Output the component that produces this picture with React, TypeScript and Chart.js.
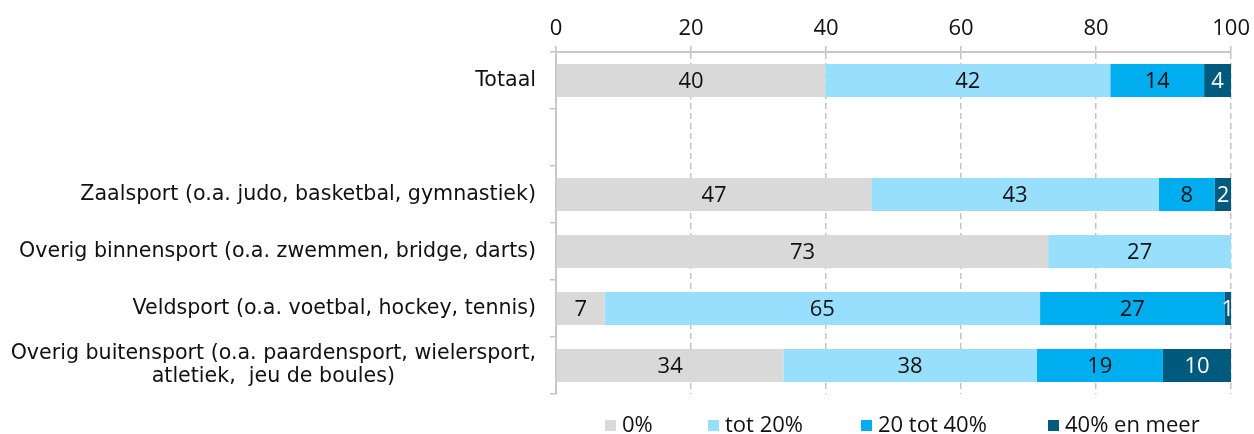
import React, { useEffect, useRef } from "react";
import { Chart, registerables } from "chart.js";

Chart.register(...registerables);

const categories: (string | string[])[] = [
  "Totaal",
  "",
  "Zaalsport (o.a. judo, basketbal, gymnastiek)",
  "Overig binnensport (o.a. zwemmen, bridge, darts)",
  "Veldsport (o.a. voetbal, hockey, tennis)",
  ["Overig buitensport (o.a. paardensport, wielersport,", "atletiek,  jeu de boules)"],
];

const seriesNames = ["0%", "tot 20%", "20 tot 40%", "40% en meer"];

const nul = [39.9, null, 46.7, 72.9, 7.2, 33.7];
const tot20 = [42.2, null, 42.6, 27.1, 64.5, 37.5];
const tot40 = [13.9, null, 8.3, 0, 27.3, 18.7];
const meer = [4.0, null, 2.4, 0, 1.0, 10.1];

const xTicks = [0, 20, 40, 60, 80, 100];

const colors = ["#d9d9d9", "#97dffc", "#00adef", "#005a7d"];
const labelColors = ["#111111", "#111111", "#111111", "#ffffff"];

const NUM_FONT = '22px "Open Sans"';
const CAT_FONT = '20.6px "DejaVu Sans"';

const legendOffsets = [49, 152, 305, 492];

const dataLabelPlugin = {
  id: "dataLabels",
  afterDatasetsDraw(chart: any) {
    const ctx = chart.ctx;
    ctx.save();
    ctx.font = NUM_FONT;
    ctx.textAlign = "center";
    ctx.textBaseline = "middle";
    chart.data.datasets.forEach((ds: any, i: number) => {
      const meta = chart.getDatasetMeta(i);
      meta.data.forEach((bar: any, j: number) => {
        const v = ds.data[j];
        if (v == null || v < 0.5) return;
        const p = bar.getProps(["x", "y", "base"], true);
        ctx.fillStyle = labelColors[i];
        ctx.fillText(String(Math.round(v)), (p.x + p.base) / 2, p.y + 1);
      });
    });
    ctx.restore();
  },
};

const catLabelPlugin = {
  id: "catLabels",
  afterDraw(chart: any) {
    const ctx = chart.ctx;
    const ys = chart.scales.y;
    const right = chart.chartArea.left - 20;
    ctx.save();
    ctx.font = CAT_FONT;
    ctx.fillStyle = "#111111";
    ctx.textBaseline = "middle";
    const labels = chart.data.labels as (string | string[])[];
    labels.forEach((l, i) => {
      const py = ys.getPixelForValue(i);
      if (Array.isArray(l)) {
        const lh = 23;
        const w = Math.max(...l.map((s) => ctx.measureText(s).width));
        ctx.textAlign = "center";
        const cx = right - w / 2;
        const start = py - ((l.length - 1) * lh) / 2;
        l.forEach((s, k) => ctx.fillText(s, cx, start + k * lh));
      } else {
        ctx.textAlign = "right";
        ctx.fillText(l, right, py);
      }
    });
    ctx.restore();
  },
};

const legendPlugin = {
  id: "customLegend",
  afterDraw(chart: any) {
    const ctx = chart.ctx;
    const left = chart.chartArea.left;
    const cy = 425.5;
    ctx.save();
    ctx.font = NUM_FONT;
    ctx.textBaseline = "middle";
    ctx.textAlign = "left";
    chart.data.datasets.forEach((ds: any, i: number) => {
      const bx = left + legendOffsets[i];
      ctx.fillStyle = ds.backgroundColor;
      ctx.fillRect(bx, cy - 5.5, 11, 11);
      ctx.fillStyle = "#111111";
      ctx.fillText(ds.label, bx + 17, cy);
    });
    ctx.restore();
  },
};

export default function App() {
  const ref = useRef<HTMLCanvasElement | null>(null);

  useEffect(() => {
    if (!ref.current) return;
    const chart = new Chart(ref.current, {
      type: "bar",
      data: {
        labels: categories as any,
        datasets: [nul, tot20, tot40, meer].map((d, i) => ({
          label: seriesNames[i],
          data: d as any,
          backgroundColor: colors[i],
          borderWidth: 0,
          barPercentage: 0.58,
          categoryPercentage: 1,
        })),
      },
      options: {
        indexAxis: "y",
        responsive: false,
        animation: false,
        devicePixelRatio: 1,
        layout: { padding: { left: 0, right: 19, top: 0, bottom: 40 } },
        plugins: {
          legend: { display: false },
          tooltip: { enabled: false },
        },
        scales: {
          x: {
            position: "top",
            stacked: true,
            min: 0,
            max: 100,
            afterFit: (s: any) => {
              s.height = 52;
            },
            afterBuildTicks: (s: any) => {
              s.ticks = xTicks.map((v) => ({ value: v }));
            },
            ticks: {
              font: { family: "Open Sans", size: 22 },
              color: "#111111",
              padding: 4,
            },
            grid: {
              color: "#c4c4c4",
              lineWidth: 1.5,
              tickLength: 6,
              tickBorderDash: [],
            },
            border: { color: "#c8c8c8", width: 2, dash: [6, 4] },
          },
          y: {
            stacked: true,
            afterFit: (s: any) => {
              s.width = 556;
            },
            ticks: { display: false },
            grid: {
              drawOnChartArea: false,
              color: "#c4c4c4",
              lineWidth: 1.5,
              tickLength: 6,
              offset: true,
            },
            border: { color: "#c8c8c8", width: 2 },
          },
        },
      },
      plugins: [dataLabelPlugin, catLabelPlugin, legendPlugin],
    } as any);
    return () => chart.destroy();
  }, []);

  return (
    <div style={{ position: "fixed", left: 0, top: 0, width: 1254, height: 434, background: "#fff" }}>
      <canvas ref={ref} width={1254} height={434} />
    </div>
  );
}
